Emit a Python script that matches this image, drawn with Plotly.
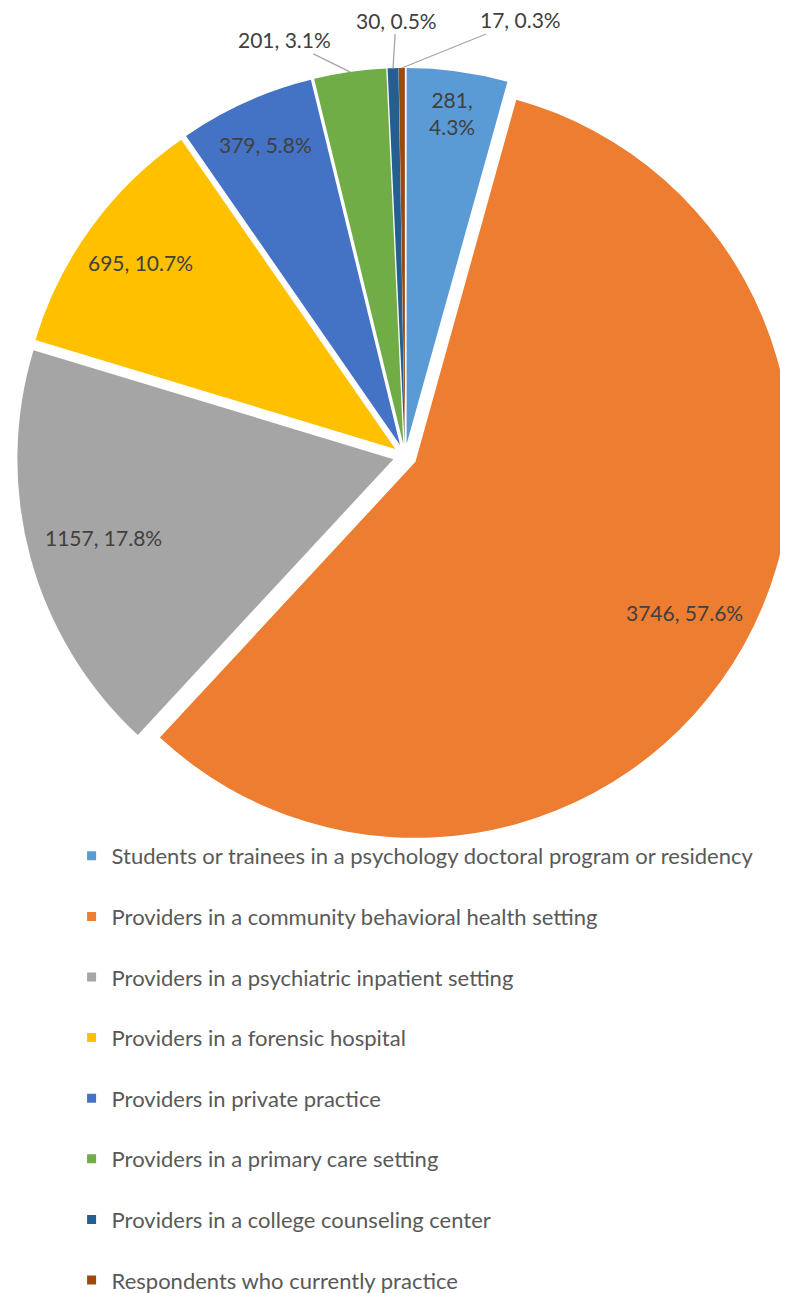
import math
import plotly.graph_objects as go

categories = [
    "Students or trainees in a psychology doctoral program or residency",
    "Providers in a community behavioral health setting",
    "Providers in a psychiatric inpatient setting",
    "Providers in a forensic hospital",
    "Providers in private practice",
    "Providers in a primary care setting",
    "Providers in a college counseling center",
    "Respondents who currently practice",
]
values = [281, 3746, 1157, 695, 379, 201, 30, 17]
colors = ["#5B9BD5", "#ED7D31", "#A5A5A5", "#FFC000", "#4472C4", "#70AD47", "#255E91", "#9E480E"]

# label placement style (radial fraction for inside labels; pixel offsets for outside labels)
inside_frac = {0: 0.89, 1: 0.82, 2: 0.80, 3: 0.84, 4: 0.875}
inside_wrap = {0: True}
outside_offset = {5: (-65, -32), 6: (3, -48), 7: (119, -48)}

W, H = 788, 1293
OFF = 8  # default page body margin offsets the figure in the window
FONT = "Lato"
LABEL_SIZE = 21
pull = 0.032
cx_px, cy_px = 405 - OFF, 456 - OFF   # pie centre in figure pixels
r = 376
half = r * (1 + pull)

fig = go.Figure()
fig.add_trace(go.Pie(
    labels=categories, values=values, sort=False, direction="clockwise", rotation=0,
    marker=dict(colors=colors, line=dict(color="white", width=0)),
    pull=[pull] * len(values),
    textinfo="none",
    showlegend=False,
    domain=dict(x=[(cx_px - half) / W, (cx_px + half) / W],
                y=[1 - (cy_px + half) / H, 1 - (cy_px - half) / H]),
    hoverinfo="label+value+percent",
))

total = sum(values)
cum = 0.0
for i, v in enumerate(values):
    frac = v / total
    mid = 2 * math.pi * (cum + frac / 2)
    cum += frac
    dx, dy = math.sin(mid), -math.cos(mid)
    scx, scy = cx_px + pull * r * dx, cy_px + pull * r * dy
    pct = f"{frac * 100:.1f}%"
    lab_font = dict(family=FONT, size=LABEL_SIZE, color="#404040")
    if i in inside_frac:
        sep = ",<br>" if inside_wrap.get(i) else ", "
        txt = f"{v}{sep}{pct}"
        lx = scx + inside_frac[i] * r * dx
        ly = scy + inside_frac[i] * r * dy
        fig.add_annotation(x=lx / W, y=1 - ly / H, xref="paper", yref="paper",
                           xanchor="center", yanchor="middle",
                           text=txt, showarrow=False, font=lab_font)
    else:
        tx = cx_px + r * (1 + pull) * dx
        ty = cy_px + r * (1 + pull) * dy
        ox, oy = outside_offset[i]
        fig.add_annotation(x=tx / W, y=1 - ty / H, xref="paper", yref="paper",
                           xanchor="center", yanchor="middle",
                           text=f"{v}, {pct}", showarrow=True, arrowhead=0,
                           arrowwidth=1.3, arrowcolor="#A6A6A6", ax=ox, ay=oy,
                           standoff=0, font=lab_font)

for cat, col in zip(categories, colors):
    fig.add_trace(go.Scatter(
        x=[None], y=[None], mode="markers", name=cat, legendgroup=cat,
        marker=dict(symbol="square", size=9, color=col),
    ))

fig.update_layout(
    width=W, height=H, margin=dict(l=0, r=0, t=0, b=0),
    paper_bgcolor="white", plot_bgcolor="white",
    xaxis=dict(visible=False), yaxis=dict(visible=False),
    legend=dict(x=0.0807, y=0, xanchor="left", yanchor="bottom",
                font=dict(family=FONT, size=22, color="#595959"),
                tracegroupgap=29, itemwidth=30, bgcolor="rgba(0,0,0,0)"),
    font=dict(family=FONT),
)
fig.write_html("out.html")
